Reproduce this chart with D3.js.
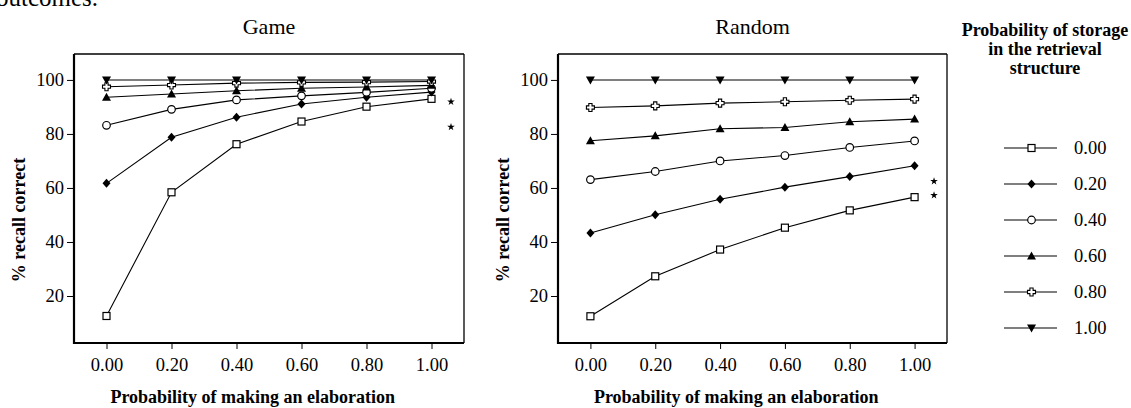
<!DOCTYPE html>
<html>
<head>
<meta charset="utf-8">
<script src="https://cdn.jsdelivr.net/npm/d3@7"></script>
<style>
  body { margin: 0; background: #fff; }
  svg { display: block; font-family: "Liberation Serif", "DejaVu Serif", serif; }
</style>
</head>
<body>
<svg id="chart" width="1131" height="408"></svg>
<script>
const elaboration = [0, 0.2, 0.4, 0.6, 0.8, 1.0];
const xTickLabels = ["0.00", "0.20", "0.40", "0.60", "0.80", "1.00"];
const yTicks = [20, 40, 60, 80, 100];
const storageLevels = ["0.00", "0.20", "0.40", "0.60", "0.80", "1.00"];
const markerTypes = ["square", "diamond", "circle", "triangleUp", "cross", "triangleDown"];

const gameValues = [
  [12.6, 58.4, 76.2, 84.6, 90.1, 93.0],
  [61.7, 78.8, 86.2, 91.1, 93.6, 95.5],
  [83.2, 89.1, 92.6, 94.1, 95.4, 96.9],
  [93.6, 94.8, 96.0, 96.9, 97.4, 98.0],
  [97.5, 98.1, 98.8, 99.1, 99.2, 99.4],
  [100, 100, 100, 100, 100, 100],
];
const randomValues = [
  [12.5, 27.3, 37.2, 45.3, 51.7, 56.6],
  [43.3, 50.1, 55.8, 60.3, 64.2, 68.2],
  [63.1, 66.1, 70.0, 72.0, 75.0, 77.4],
  [77.5, 79.3, 81.9, 82.4, 84.5, 85.5],
  [89.8, 90.4, 91.4, 91.9, 92.5, 92.9],
  [100, 100, 100, 100, 100, 100],
];
// y positions (data units) of the significance stars right of 1.00
const gameStars = [91.9, 82.6];
const randomStars = [62.5, 57.3];

const svg = d3.select("#chart");

svg.append("text").attr("x", -4).attr("y", 6).attr("font-size", 25).text("outcomes.");

function drawMarker(g, type, x, y) {
  const black = "#000";
  if (type === "square") {
    g.append("rect").attr("x", x - 3.5).attr("y", y - 3.5).attr("width", 7).attr("height", 7)
      .attr("fill", "#fff").attr("stroke", black).attr("stroke-width", 1.2);
  } else if (type === "circle") {
    g.append("circle").attr("cx", x).attr("cy", y).attr("r", 3.8)
      .attr("fill", "#fff").attr("stroke", black).attr("stroke-width", 1.2);
  } else if (type === "diamond") {
    g.append("path").attr("d", `M${x},${y - 4.5}L${x + 4},${y}L${x},${y + 4.5}L${x - 4},${y}Z`).attr("fill", black);
  } else if (type === "triangleUp") {
    g.append("path").attr("d", `M${x},${y - 4.5}L${x + 4.5},${y + 3.5}L${x - 4.5},${y + 3.5}Z`).attr("fill", black);
  } else if (type === "triangleDown") {
    g.append("path").attr("d", `M${x},${y + 4.5}L${x + 4.5},${y - 3.5}L${x - 4.5},${y - 3.5}Z`).attr("fill", black);
  } else if (type === "cross") {
    const a = 1.6, b = 4;
    g.append("path")
      .attr("d", `M${x - a},${y - b}H${x + a}V${y - a}H${x + b}V${y + a}H${x + a}V${y + b}H${x - a}V${y + a}H${x - b}V${y - a}H${x - a}Z`)
      .attr("fill", "#fff").attr("stroke", black).attr("stroke-width", 1.1);
  }
}

function drawPanel({ left, right, title, values, stars }) {
  const top = 54, bottom = 343;
  const x = d3.scaleLinear().domain([-0.1, 1.1]).range([left, right]);
  const y = d3.scaleLinear().domain([2.6, 109.6]).range([bottom, top]);
  const g = svg.append("g");

  g.append("text").attr("x", x(0.5)).attr("y", 34).attr("text-anchor", "middle")
    .attr("font-size", 22).text(title);

  // frame
  g.append("line").attr("x1", left).attr("x2", right).attr("y1", top).attr("y2", top).attr("stroke", "#000").attr("stroke-width", 1.3);
  g.append("line").attr("x1", right).attr("x2", right).attr("y1", top).attr("y2", bottom).attr("stroke", "#000").attr("stroke-width", 1.3);

  const yAxis = g.append("g").attr("transform", `translate(${left},0)`)
    .call(d3.axisLeft(y).tickValues(yTicks).tickSize(7).tickPadding(3));
  const xAxis = g.append("g").attr("transform", `translate(0,${bottom})`)
    .call(d3.axisBottom(x).tickValues(elaboration).tickFormat((d, i) => xTickLabels[i]).tickSize(6).tickPadding(9));
  [yAxis, xAxis].forEach((ax) => {
    ax.select(".domain").remove();
    ax.selectAll("line").attr("stroke-width", 1);
    ax.selectAll("text").attr("font-family", "Liberation Serif, serif").attr("font-size", 18.5).attr("fill", "#000");
  });
  g.append("line").attr("x1", left).attr("x2", left).attr("y1", top).attr("y2", bottom + 1).attr("stroke", "#000").attr("stroke-width", 2.2);
  g.append("line").attr("x1", left).attr("x2", right).attr("y1", bottom).attr("y2", bottom).attr("stroke", "#000").attr("stroke-width", 2.2);

  const line = d3.line().x((d, i) => x(elaboration[i])).y((d) => y(d));
  values.forEach((series) => {
    g.append("path").attr("d", line(series)).attr("fill", "none").attr("stroke", "#000").attr("stroke-width", 1.1);
  });
  values.forEach((series, s) => {
    series.forEach((v, i) => drawMarker(g, markerTypes[s], x(elaboration[i]), y(v)));
  });

  const star = d3.symbol(d3.symbolStar, 18);
  stars.forEach((v) => {
    g.append("path").attr("transform", `translate(${x(1.06)},${y(v)})`).attr("d", star()).attr("fill", "#000");
  });

  g.append("text").attr("x", x(0.45)).attr("y", 403).attr("text-anchor", "middle")
    .attr("font-size", 18).attr("font-weight", "bold").text("Probability of making an elaboration");

  g.append("text").attr("transform", `translate(${left - 49},220) rotate(-90)`)
    .attr("text-anchor", "middle").attr("font-size", 18).attr("font-weight", "bold").text("% recall correct");
}

drawPanel({ left: 74, right: 464, title: "Game", values: gameValues, stars: gameStars });
drawPanel({ left: 558, right: 947, title: "Random", values: randomValues, stars: randomStars });

// legend
const legendTitle = ["Probability of storage", "in the retrieval", "structure"];
const lg = svg.append("g");
legendTitle.forEach((t, i) => {
  lg.append("text").attr("x", 1045).attr("y", 36 + i * 19).attr("text-anchor", "middle")
    .attr("font-size", 18).attr("font-weight", "bold").text(t);
});
const legendY = d3.scalePoint().domain(storageLevels).range([148, 328]);
storageLevels.forEach((lvl, i) => {
  const yy = legendY(lvl);
  lg.append("line").attr("x1", 1004).attr("x2", 1057).attr("y1", yy).attr("y2", yy).attr("stroke", "#000").attr("stroke-width", 1.1);
  drawMarker(lg, markerTypes[i], 1031.5, yy);
  lg.append("text").attr("x", 1074).attr("y", yy + 6).attr("font-size", 18.5).text(lvl);
});
</script>
</body>
</html>
